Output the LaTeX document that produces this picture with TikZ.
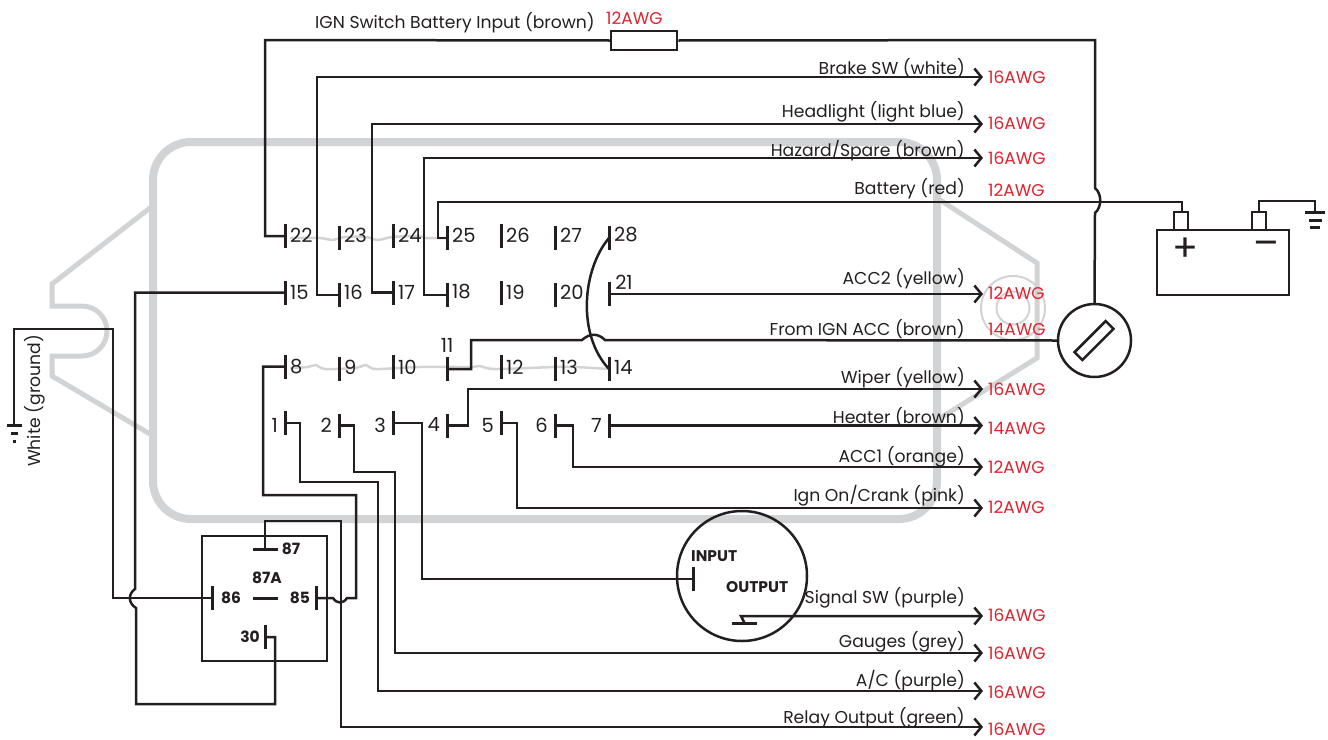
\documentclass[tikz,border=0pt]{standalone}
\usepackage{fontspec}
\setmainfont{Poppins}
\usetikzlibrary{arrows.meta}
\definecolor{ink}{HTML}{231F20}
\definecolor{ghost}{HTML}{D1D3D4}
\definecolor{tagred}{HTML}{E0222E}
\tikzset{
  wire/.style={ink,line width=2.5pt},
  shell/.style={ghost,line width=5pt},
  bar/.style={fill=ink,inner sep=0pt,minimum width=3pt,minimum height=24pt},
  hbar/.style={fill=ink,inner sep=0pt,minimum width=25pt,minimum height=3pt},
  box/.style={draw=ink,line width=2.5pt,inner sep=0pt},
  tnum/.style={inner sep=0pt,text=ink,font=\fontsize{19.5}{20}\selectfont},
  wname/.style={anchor=east,inner sep=0pt,yshift=-1pt,text=ink,font=\fontsize{17.2}{18}\selectfont},
  awg/.style={anchor=west,inner sep=0pt,text=tagred,font=\fontsize{17}{17}\selectfont},
  heavy/.style={inner sep=0pt,text=ink,font=\bfseries\fontsize{15.5}{16}\selectfont},
  batsign/.style={inner sep=0pt,text=ink,font=\fontsize{38}{38}\selectfont},
}
\begin{document}
\begin{tikzpicture}[x=1pt,y=-1pt,>={Straight Barb[length=7pt,width=17pt]}]
\useasboundingbox (0,0) rectangle (1328,739);
\draw[shell,line width=8pt,rounded corners=38pt](153,142)rectangle(937,519);
\draw[shell](150,208)--(52,284)--(52,306)--(82,306)arc(-90:90:25)--(52,356)--(52,376)--(150,434);
\draw[shell](937,198)--(1037,263)--(1037,358)--(937,420);
\draw[ghost,line width=2pt](1013,308)circle(32);
\draw[ghost,line width=2pt](1013,308)circle(16.5);
\draw[ghost,line width=2.5pt]plot[smooth]coordinates{(290,238)(320,238)(332,240)(345,237)(366,237)(378,240)(392,237)(418,236)(426,238)(447,238)};
\draw[ghost,line width=2.5pt]plot[smooth]coordinates{(290,368)(308,367)(316,365)(325,369)(355,368)(366,365)(376,369)(420,367)(470,367)(480,366)(495,369)(555,367)(575,367)(609,369)};

\foreach \n/\x/\y/\r in {22/285/236/235,23/339/238/235,24/393/236/235,25/447/238/235,26/501/236/235,27/555/238/235,28/609/238/235,
  15/285/292.5/292,16/339/295/292,17/393/292.5/292,18/447/295/292,19/501/292.5/292,20/555/295/292,
  8/285/366.5/367,9/339/369/367,10/393/366.5/367,12/501/366.5/367,13/555/369/367,14/609/369/367}{
  \node[bar](t\n)at(\x,\y){};
  \node[tnum,anchor=west](n\n)at(\x+5,\r){\n};
}
\foreach \n/\x/\y in {1/285/423,2/339/425.5,3/393/423,4/447/425.5,5/501/423,6/555/425.5,7/609/425.5}{
  \node[bar](t\n)at(\x,\y){};
  \node[tnum,anchor=east](n\n)at(\x-7,425){\n};
}
\node[bar](t21)at(609,294){};
\node[tnum](n21)at(624,282){21};
\node[bar](t11)at(447,369){};
\node[tnum](n11)at(447,345){11};

\foreach \w/\txt/\y/\ly/\tag/\ry in {brake/Brake SW (white)/77/67/16AWG/77,
  head/Headlight (light blue)/124/111/16AWG/123,
  hazard/{Hazard/Spare (brown)}/158/150/16AWG/158,
  acctwo/ACC2 (yellow)/294/278/12AWG/293,
  wiper/Wiper (yellow)/389/377/16AWG/389,
  heater/Heater (brown)/425.5/416/14AWG/428,
  accone/ACC1 (orange)/467/456/12AWG/467,
  ignon/{Ign On/Crank (pink)}/508/495/12AWG/507,
  signal/Signal SW (purple)/616/597/16AWG/615,
  gauges/Gauges (grey)/653/641/16AWG/653,
  ac/{A/C (purple)}/691/680/16AWG/692,
  relay/Relay Output (green)/727/717/16AWG/729}{
  \coordinate(e\w)at(983,\y);
  \node[wname](l\w)at(965,\ly){\txt};
  \node[awg](a\w)at(988,\ry){\tag};
}
\node[wname](lign)at(595,22){IGN Switch Battery Input (brown)};
\node[awg](aign)at(606,18){12AWG};
\node[wname](lbatt)at(965,188){Battery (red)};
\node[awg](abatt)at(988,190){12AWG};
\node[wname](lfrom)at(965,328){From IGN ACC (brown)};
\node[awg](afrom)at(988,329){14AWG};
\node[wname,rotate=90,anchor=center](lwhite)at(35,400){White (ground)};

\node[box,fill=white,minimum width=66pt,minimum height=19pt](fuse)at(644,40.5){};
\node[box,circle,minimum size=73pt](ignsw)at(1094.5,340.5){};
\node[box,minimum width=44pt,minimum height=11pt,rotate=45](ignslot)at(1094,340.5){};
\node[box,minimum width=132pt,minimum height=65pt](batt)at(1223,262.5){};
\node[box,minimum width=14pt,minimum height=18pt](bpos)at(1181,221){};
\node[box,minimum width=14pt,minimum height=18pt](bneg)at(1259,221){};
\node[batsign](plus)at(1185,250){+};
\node[batsign](minus)at(1266,249){--};
\node[hbar,minimum width=20pt](gnda)at(1315,212){};
\node[hbar,minimum width=13pt](gndb)at(1315,220){};
\node[hbar,minimum width=10pt](gndc)at(1315,227){};
\node[hbar,minimum width=15pt](gndd)at(14,425){};
\node[hbar,minimum width=7pt](gnde)at(14,433){};
\node[hbar,minimum width=3pt](gndf)at(14,441){};

\node[box,minimum width=125pt,minimum height=125pt](rly)at(264.5,598.5){};
\node[hbar](t87)at(265,549){};
\node[hbar](t87a)at(265,598){};
\node[bar](t86)at(212,598){};
\node[bar](t85)at(316,598){};
\node[bar](t30)at(265,637){};
\node[heavy](n87)at(291,549){87};
\node[heavy](n87a)at(267,578){87A};
\node[heavy](n86)at(231,598){86};
\node[heavy](n85)at(300,598){85};
\node[heavy](n30)at(250,637){30};

\node[box,circle,minimum size=130pt](sig)at(742,576){};
\node[bar](tin)at(693,579){};
\node[hbar](tout)at(744.5,623){};
\node[heavy,anchor=west](nin)at(691,556){INPUT};
\node[heavy,anchor=west](nout)at(726,587){OUTPUT};

\draw[wire](t22.center)--(265,236)--(265,40)--(fuse.west);
\draw[wire](fuse.east)--(1095,40)--(1095,188)..controls(1102,194)and(1102,207)..(1095,213)--(ignsw.north);
\draw[wire,->](t16.center)--(317,295)--(317,77)--(ebrake);
\draw[wire,->](t17.center)--(372,292.5)--(372,124)--(ehead);
\draw[wire,->](t18.center)--(424,295)--(424,158)--(ehazard);
\draw[wire](t25.center)--(438,238)--(438,202)--(1182,202)--(bpos.north-|1182,0);
\draw[wire](bneg.north)--(1259,201)--(1315,201)--(gnda.center);
\draw[wire,->](t21.center)--(eacctwo);
\draw[wire](ignsw.west)--(605,340)..controls(598,333)and(590,333)..(582,340)--(471,340)--(471,369)--(t11.center);
\draw[wire](t28.center)..controls(582,270)and(577,335)..(t14.center);
\draw[wire,->](t4.center)--(468,425.5)--(468,389)--(ewiper);
\draw[wire,->](t7.center)--(eheater);
\draw[wire,->](t6.center)--(573,425.5)--(573,467)--(eaccone);
\draw[wire,->](t5.center)--(517,423)--(517,508)--(eignon);
\draw[wire](t3.center)--(422,423)--(422,579)--(tin.center);
\draw[wire,->](tout.center)--(741,616)--(esignal);
\draw[wire,->](t2.center)--(354,425.5)--(354,472)--(395,472)--(395,653)--(egauges);
\draw[wire,->](t1.center)--(300,423)--(300,482)--(378,482)--(378,691)--(eac);
\draw[wire,->](t87.center)--(265,521)--(341,521)--(341,727)--(erelay);
\draw[wire](t85.center)--(333,598)..controls(337,604)and(343,604)..(347,598)--(356,598)--(356,495)--(263,495)--(263,366.5)--(t8.center);
\draw[wire](t15.center)--(135,292.5)--(135,589)..controls(128,594)and(128,603)..(136,608)--(136,704)--(275,704)--(275,637)--(t30.center);
\draw[wire](t86.center)--(113,598)--(113,329)--(14,329)--(gndd.center);
\end{tikzpicture}
\end{document}
